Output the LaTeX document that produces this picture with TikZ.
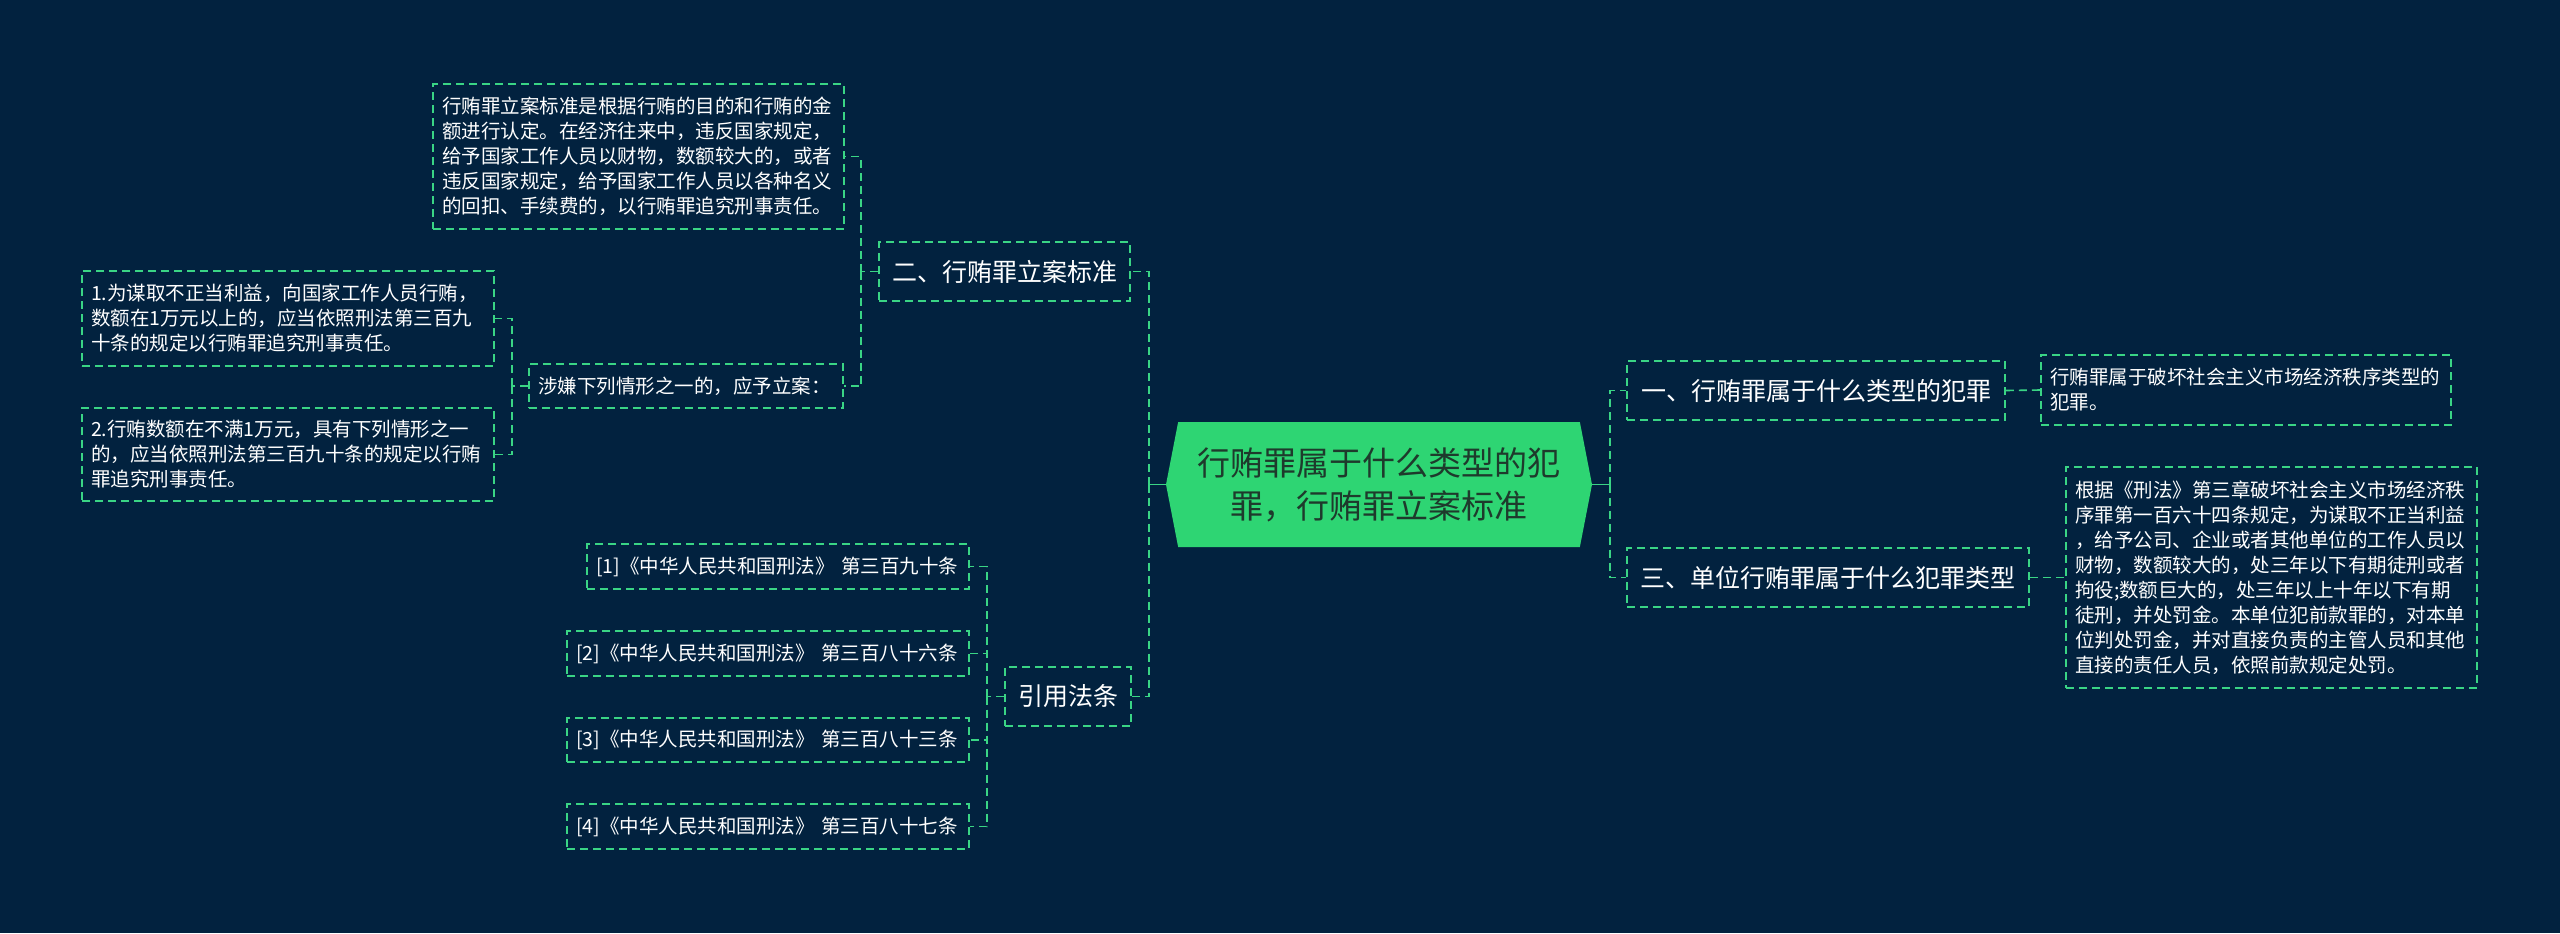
\documentclass[tikz,border=0pt]{standalone}
\usepackage{fontspec}
\setmainfont{Noto Sans CJK SC}
\definecolor{bgnavy}{HTML}{02223F}
\definecolor{mmgreen}{HTML}{2ED573}
\definecolor{mmline}{HTML}{3AD585}
\definecolor{mmdark}{HTML}{1E3A2C}
\usetikzlibrary{shapes.symbols}

\begin{document}
\begin{tikzpicture}[
  x=0.5pt, y=-0.5pt,
  root/.style={shape=signal, signal to=west and east, signal pointer angle=158,
    fill=mmgreen, text=mmdark, font=\fontsize{16.5}{21.5}\selectfont,
    minimum width=213pt, minimum height=62.5pt, inner sep=0pt, align=center},
  topic/.style={draw=mmline, dash pattern=on 4pt off 2.5pt, line width=0.8pt,
    text=white, font=\fontsize{12.5}{15}\selectfont, inner sep=0pt,
    minimum height=29.5pt, minimum width=#1},
  leaf/.style={draw=mmline, dash pattern=on 4pt off 2.5pt, line width=0.8pt,
    text=white, font=\fontsize{9.75}{12.5}\selectfont, inner xsep=4.5pt,
    inner ysep=0pt, text width=#1, align=left},
  link/.style={mmline, dash pattern=on 4pt off 2.5pt, line width=0.8pt},
  stem/.style={mmline, line width=0.8pt}
]
  \path[use as bounding box, fill=bgnavy] (0,0) rectangle (2560,933);

  % Root
  \node[root] (root) at (1379,484.5) {行贿罪属于什么类型的犯\\罪，行贿罪立案标准};

  % Topics
  \node[topic=125.5pt] (sectwo) at (1004.5,271.5) {二、行贿罪立案标准};
  \node[topic=63pt] (cite) at (1068,696.5) {引用法条};
  \node[topic=189pt] (secone) at (1816,390.5) {一、行贿罪属于什么类型的犯罪};
  \node[topic=201pt] (secthree) at (1828,577.5) {三、单位行贿罪属于什么犯罪类型};

  % Details, left
  \node[leaf=196.5pt, minimum height=72.5pt] (std) at (638.5,156.5)
    {行贿罪立案标准是根据行贿的目的和行贿的金\\额进行认定。在经济往来中，违反国家规定，\\给予国家工作人员以财物，数额较大的，或者\\违反国家规定，给予国家工作人员以各种名义\\的回扣、手续费的，以行贿罪追究刑事责任。};
  \node[leaf=148pt, minimum height=22pt] (suspect) at (686,386) {涉嫌下列情形之一的，应予立案：};
  \node[leaf=197pt, minimum height=47.5pt] (caseone) at (288,318.5)
    {1.为谋取不正当利益，向国家工作人员行贿，\\数额在1万元以上的，应当依照刑法第三百九\\十条的规定以行贿罪追究刑事责任。};
  \node[leaf=197pt, minimum height=46.5pt] (casetwo) at (288,454.5)
    {2.行贿数额在不满1万元，具有下列情形之一\\的，应当依照刑法第三百九十条的规定以行贿\\罪追究刑事责任。};
  \node[leaf=182pt, minimum height=22.5pt] (lawone) at (778,566.5) {[1]《中华人民共和国刑法》 第三百九十条};
  \node[leaf=192pt, minimum height=22.5pt] (lawtwo) at (768,653.5) {[2]《中华人民共和国刑法》 第三百八十六条};
  \node[leaf=192pt, minimum height=22pt] (lawthree) at (768,740) {[3]《中华人民共和国刑法》 第三百八十三条};
  \node[leaf=192pt, minimum height=22.5pt] (lawfour) at (768,826.5) {[4]《中华人民共和国刑法》 第三百八十七条};

  % Details, right
  \node[leaf=196pt, minimum height=35pt] (typedesc) at (2246,390)
    {行贿罪属于破坏社会主义市场经济秩序类型的\\犯罪。};
  \node[leaf=196.5pt, minimum height=110.5pt] (unitdesc) at (2271.5,577.5)
    {根据《刑法》第三章破坏社会主义市场经济秩\\序罪第一百六十四条规定，为谋取不正当利益\\，给予公司、企业或者其他单位的工作人员以\\财物，数额较大的，处三年以下有期徒刑或者\\拘役;数额巨大的，处三年以上十年以下有期\\徒刑，并处罚金。本单位犯前款罪的，对本单\\位判处罚金，并对直接负责的主管人员和其他\\直接的责任人员，依照前款规定处罚。};

  % Joints
  \coordinate (lroot) at (1149,484.5);
  \coordinate (rroot) at (1610,484.5);
  \coordinate (jtwo) at (861,271.5);
  \coordinate (jsus) at (512,386);
  \coordinate (jcite) at (987,696.5);

  % Branches
  \draw[stem] (root.west) -- (lroot);
  \draw[stem] (root.east) -- (rroot);
  \draw[link] (lroot) |- (sectwo.east);
  \draw[link] (lroot) |- (cite.east);
  \draw[link] (rroot) |- (secone.west);
  \draw[link] (rroot) |- (secthree.west);
  \draw[link] (secone.east) -- (typedesc.west);
  \draw[link] (secthree.east) -- (unitdesc.west);
  \draw[link] (sectwo.west) -- (jtwo);
  \draw[link] (jtwo) |- (std.east);
  \draw[link] (jtwo) |- (suspect.east);
  \draw[link] (suspect.west) -- (jsus);
  \draw[link] (jsus) |- (caseone.east);
  \draw[link] (jsus) |- (casetwo.east);
  \draw[link] (cite.west) -- (jcite);
  \draw[link] (jcite) |- (lawone.east);
  \draw[link] (jcite) |- (lawtwo.east);
  \draw[link] (jcite) |- (lawthree.east);
  \draw[link] (jcite) |- (lawfour.east);
\end{tikzpicture}
\end{document}
